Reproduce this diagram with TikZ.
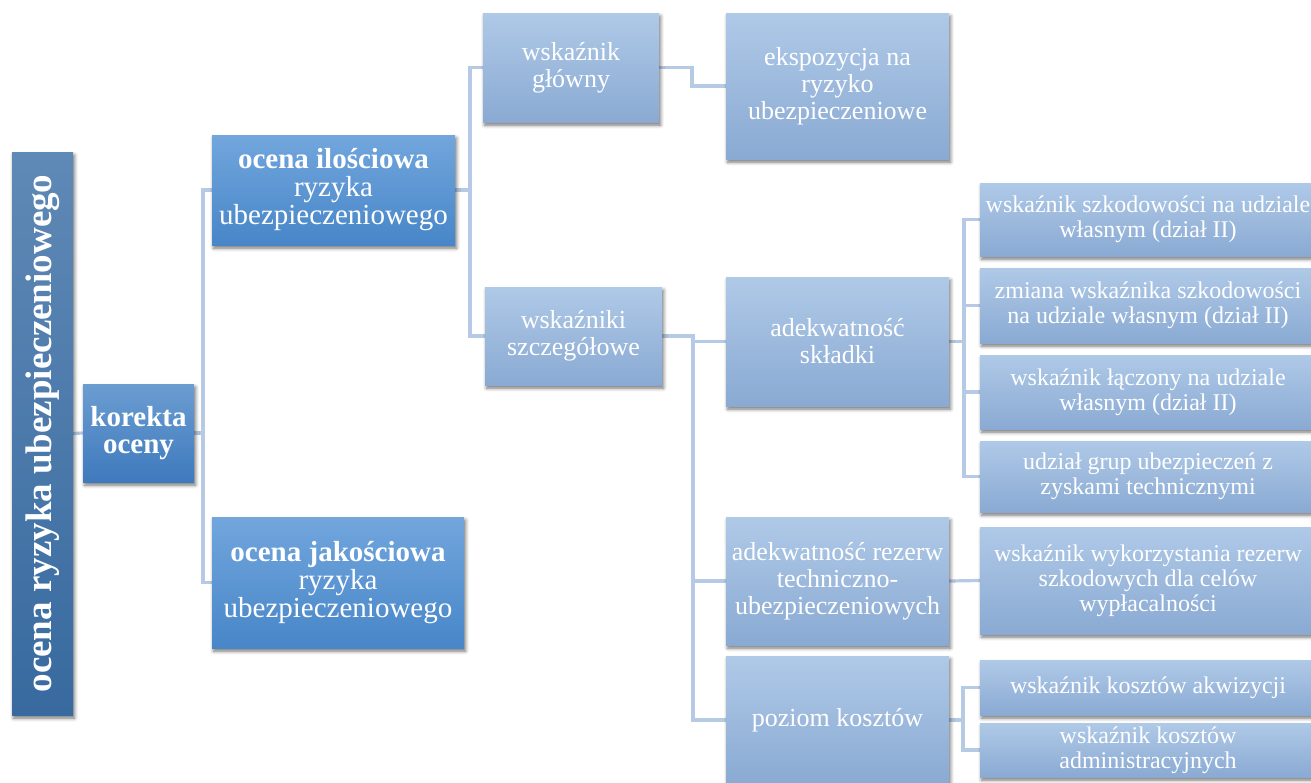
\documentclass[tikz,border=0pt]{standalone}
\usepackage{fontspec}
\setmainfont{Liberation Serif}
\usetikzlibrary{shadows.blur,backgrounds}

\definecolor{rootT}{HTML}{5F89B6}
\definecolor{rootB}{HTML}{386A9F}
\definecolor{korT}{HTML}{6B9DD1}
\definecolor{korB}{HTML}{3F7ABD}
\definecolor{ocT}{HTML}{72A6DD}
\definecolor{ocB}{HTML}{4786C8}
\definecolor{liT}{HTML}{AFC9E7}
\definecolor{liB}{HTML}{8AAAD3}
\definecolor{connC}{HTML}{B6CAE6}

\tikzset{
  box/.style={draw=none, inner sep=0pt, text=white, align=center,
    blur shadow={shadow xshift=1.5pt, shadow yshift=-3pt,
                 shadow blur radius=3.5pt, shadow opacity=55}},
  rootbox/.style={box, top color=rootT, bottom color=rootB},
  korbox/.style={box, top color=korT, bottom color=korB,
    font=\bfseries\fontsize{29}{27}\selectfont},
  ocbox/.style={box, top color=ocT, bottom color=ocB,
    font=\fontsize{29}{28}\selectfont},
  midbox/.style={box, top color=liT, bottom color=liB,
    font=\fontsize{26}{27}\selectfont},
  leafbox/.style={box, top color=liT, bottom color=liB,
    font=\fontsize{24}{25}\selectfont},
  conn/.style={draw=connC, line width=3.2pt},
}

\begin{document}
\begin{tikzpicture}[x=1pt, y=-1pt]
\useasboundingbox (0,0) rectangle (1311,782);

% root and first level
\node[rootbox, minimum width=61pt, minimum height=563pt] (root) at (42.5,433.5)
  {\rotatebox{90}{\bfseries\fontsize{37}{37}\selectfont ocena ryzyka ubezpieczeniowego}};
\node[korbox, minimum width=111pt, minimum height=98pt] (kor) at (138.5,433)
  {korekta\\oceny};

% quantitative / qualitative assessment
\node[ocbox, minimum width=243pt, minimum height=110pt] (ilo) at (333.5,190)
  {\textbf{ocena ilościowa}\\ryzyka\\ubezpieczeniowego};
\node[ocbox, minimum width=252pt, minimum height=131pt] (jak) at (338,582.5)
  {\textbf{ocena jakościowa}\\ryzyka\\ubezpieczeniowego};

% indicators
\node[midbox, minimum width=176pt, minimum height=109pt] (glo) at (571,67.5)
  {wskaźnik\\główny};
\node[midbox, minimum width=177pt, minimum height=98pt] (szc) at (573.5,336)
  {wskaźniki\\szczegółowe};
\node[midbox, minimum width=223pt, minimum height=146pt] (eks) at (837.5,86)
  {ekspozycja na\\ryzyko\\ubezpieczeniowe};
\node[midbox, minimum width=223pt, minimum height=129pt] (skl) at (837.5,341.5)
  {adekwatność\\składki};
\node[midbox, minimum width=223pt, minimum height=128pt] (rez) at (837.5,581)
  {adekwatność rezerw\\techniczno-\\ubezpieczeniowych};
\node[midbox, minimum width=223pt, minimum height=128pt] (poz) at (837.5,720)
  {poziom kosztów};

% detailed measures
\node[leafbox, minimum width=336pt, minimum height=73pt] (r1) at (1148,219.5)
  {wskaźnik szkodowości na udziale\\własnym (dział II)};
\node[leafbox, minimum width=336pt, minimum height=75pt] (r2) at (1148,305.5)
  {zmiana wskaźnika szkodowości\\na udziale własnym (dział II)};
\node[leafbox, minimum width=336pt, minimum height=74pt] (r3) at (1148,392)
  {wskaźnik łączony na udziale\\własnym (dział II)};
\node[leafbox, minimum width=336pt, minimum height=71pt] (r4) at (1148,476.5)
  {udział grup ubezpieczeń z\\zyskami technicznymi};
\node[leafbox, minimum width=336pt, minimum height=107pt] (wyk) at (1148,580.5)
  {wskaźnik wykorzystania rezerw\\szkodowych dla celów\\wypłacalności};
\node[leafbox, minimum width=336pt, minimum height=55pt] (k1) at (1148,687.5)
  {wskaźnik kosztów akwizycji};
\node[leafbox, minimum width=336pt, minimum height=54pt] (k2) at (1148,750)
  {wskaźnik kosztów\\administracyjnych};

% trunk positions of the elbow connectors
\coordinate (tA) at (203,0);
\coordinate (tB) at (470,0);
\coordinate (tC) at (692,0);
\coordinate (tD) at (693,0);
\coordinate (tE) at (964,0);
\coordinate (tF) at (963,0);

\begin{scope}[on background layer]
  \draw[conn] (root.east) -- (kor.west);
  \draw[conn] (kor.east) -- (kor.east -| tA) |- (ilo.west);
  \draw[conn] (kor.east -| tA) |- (jak.west);
  \draw[conn] (ilo.east) -- (ilo.east -| tB) |- (glo.west);
  \draw[conn] (ilo.east -| tB) |- (szc.west);
  \draw[conn] (glo.east) -- (glo.east -| tC) |- (eks.west);
  \draw[conn] (szc.east) -- (szc.east -| tD) |- (skl.west);
  \draw[conn] (szc.east -| tD) |- (rez.west);
  \draw[conn] (szc.east -| tD) |- (poz.west);
  \draw[conn] (skl.east) -- (skl.east -| tE) |- (r1.west);
  \draw[conn] (skl.east -| tE) |- (r2.west);
  \draw[conn] (skl.east -| tE) |- (r3.west);
  \draw[conn] (skl.east -| tE) |- (r4.west);
  \draw[conn] (rez.east) -- (wyk.west);
  \draw[conn] (poz.east) -- (poz.east -| tF) |- (k1.west);
  \draw[conn] (poz.east -| tF) |- (k2.west);
\end{scope}
\end{tikzpicture}
\end{document}
